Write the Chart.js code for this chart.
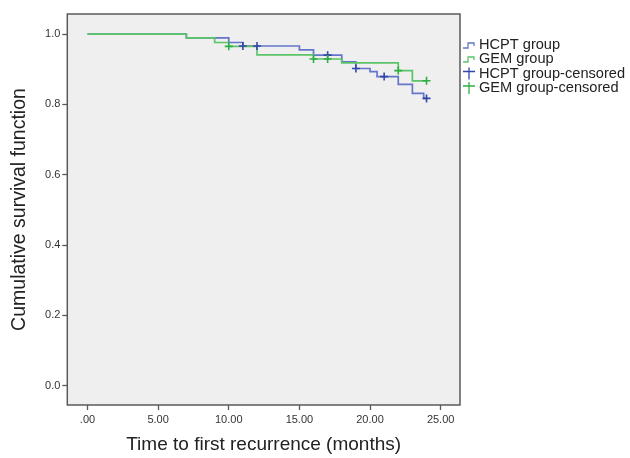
<!DOCTYPE html>
<html>
<head>
<meta charset="utf-8">
<script src="https://cdn.jsdelivr.net/npm/chart.js@4.4.1/dist/chart.umd.min.js"></script>
<style>
  html, body { margin: 0; padding: 0; background: #fff; }
  #km { display: block; }
</style>
</head>
<body>
<canvas id="km" width="630" height="458"></canvas>
<script>
// Kaplan-Meier data
const hcptTimes = [0, 7, 10, 11, 15, 16, 18, 19, 20, 20.5, 22, 23, 23.8, 24];
const hcptSurv  = [1.0, 0.989, 0.976, 0.966, 0.955, 0.940, 0.921, 0.902, 0.893, 0.879, 0.857, 0.831, 0.817, 0.817];
const gemTimes  = [0, 7, 9, 10, 12, 16, 18, 22, 23, 24];
const gemSurv   = [1.0, 0.989, 0.976, 0.965, 0.941, 0.929, 0.918, 0.896, 0.867, 0.867];

const hcptCensTimes = [11, 12, 17, 19, 21, 24];
const hcptCensSurv  = [0.966, 0.966, 0.940, 0.902, 0.879, 0.817];
const gemCensTimes  = [10, 16, 17, 22, 24];
const gemCensSurv   = [0.965, 0.929, 0.929, 0.896, 0.867];

const seriesLabels = ['HCPT group', 'GEM group', 'HCPT group-censored', 'GEM group-censored'];
const xTicks = [0, 5, 10, 15, 20, 25];
const xTickLabels = ['.00', '5.00', '10.00', '15.00', '20.00', '25.00'];
const yTicks = [0, 0.2, 0.4, 0.6, 0.8, 1.0];
const yTickLabels = ['0.0', '0.2', '0.4', '0.6', '0.8', '1.0'];

const COLORS = {
  blueLine: '#6376c9', greenLine: '#5cc468',
  blueMark: '#3346a8', greenMark: '#2fae40',
  plotBg: '#efefef', frame: '#5a5a5a', text: '#333'
};
const FONT = "'Liberation Sans', Arial, sans-serif";

const pts = (xs, ys) => xs.map((x, i) => ({ x, y: ys[i] }));

// grey plot area + frame
const frameBox = {
  id: 'frameBox',
  beforeDraw(chart) {
    const { ctx, chartArea: a } = chart;
    ctx.save();
    ctx.fillStyle = COLORS.plotBg;
    ctx.fillRect(a.left, a.top, a.right - a.left, a.bottom - a.top);
    ctx.restore();
  },
  afterDraw(chart) {
    const { ctx, chartArea: a } = chart;
    ctx.save();
    ctx.strokeStyle = COLORS.frame;
    ctx.lineWidth = 1.5;
    ctx.strokeRect(a.left, a.top, a.right - a.left, a.bottom - a.top);
    ctx.restore();
  }
};

// SPSS-like legend on the right of the plot
const kmLegend = {
  id: 'kmLegend',
  afterDraw(chart) {
    const { ctx, chartArea: a } = chart;
    const ds = chart.data.datasets;
    const x0 = a.right + 3, tx = a.right + 19;
    const rows = [45, 59, 73.5, 88];
    ctx.save();
    ctx.font = '14.6px ' + FONT;
    ctx.textBaseline = 'middle';
    ds.forEach((d, i) => {
      const y = rows[i];
      ctx.lineWidth = 1.3;
      if (d.showLine) {
        ctx.strokeStyle = d.borderColor;
        ctx.beginPath();
        ctx.moveTo(x0, y + 3);
        ctx.lineTo(x0 + 5, y + 3);
        ctx.lineTo(x0 + 5, y - 2);
        ctx.lineTo(x0 + 11, y - 2);
        ctx.lineTo(x0 + 11, y + 1);
        ctx.stroke();
      } else {
        ctx.strokeStyle = d.pointBorderColor;
        ctx.beginPath();
        ctx.moveTo(x0 + 6, y - 6); ctx.lineTo(x0 + 6, y + 6);
        ctx.moveTo(x0, y - 2); ctx.lineTo(x0 + 12, y - 2);
        ctx.stroke();
      }
      ctx.fillStyle = '#222';
      ctx.fillText(d.label, tx, y);
    });
    ctx.restore();
  }
};

new Chart(document.getElementById('km'), {
  type: 'scatter',
  data: {
    datasets: [
      { label: seriesLabels[0], data: pts(hcptTimes, hcptSurv), showLine: true, stepped: true,
        borderColor: COLORS.blueLine, borderWidth: 1.7, pointRadius: 0, order: 3 },
      { label: seriesLabels[1], data: pts(gemTimes, gemSurv), showLine: true, stepped: true,
        borderColor: COLORS.greenLine, borderWidth: 1.7, pointRadius: 0, order: 2 },
      { label: seriesLabels[2], data: pts(hcptCensTimes, hcptCensSurv), showLine: false,
        pointStyle: 'cross', pointRadius: 4, pointBorderWidth: 1.6,
        pointBorderColor: COLORS.blueMark, borderColor: COLORS.blueMark, order: 1 },
      { label: seriesLabels[3], data: pts(gemCensTimes, gemCensSurv), showLine: false,
        pointStyle: 'cross', pointRadius: 4, pointBorderWidth: 1.6,
        pointBorderColor: COLORS.greenMark, borderColor: COLORS.greenMark, order: 0 }
    ]
  },
  options: {
    responsive: false,
    animation: false,
    devicePixelRatio: 1,
    layout: { padding: { top: 14, right: 170, left: 0, bottom: 0 } },
    plugins: { legend: { display: false }, tooltip: { enabled: false } },
    scales: {
      x: {
        type: 'linear', min: -1.43, max: 26.37,
        afterBuildTicks: s => { s.ticks = xTicks.map(v => ({ value: v })); },
        afterFit: s => { s.height = 53; },
        grid: { drawOnChartArea: false, tickLength: 5, tickColor: COLORS.frame, tickWidth: 1.3 },
        border: { display: false },
        ticks: {
          color: COLORS.text, padding: 3, maxRotation: 0,
          font: { family: FONT, size: 11 },
          callback: (v, i) => xTickLabels[i]
        },
        title: { display: true, text: 'Time to first recurrence (months)', color: '#222',
                 font: { family: FONT, size: 19 }, padding: { top: 4, bottom: 2 } }
      },
      y: {
        type: 'linear', min: -0.055, max: 1.057,
        afterBuildTicks: s => { s.ticks = yTicks.map(v => ({ value: v })); },
        afterFit: s => { s.width = 67.3; },
        grid: { drawOnChartArea: false, tickLength: 5, tickColor: COLORS.frame, tickWidth: 1.3 },
        border: { display: false },
        ticks: {
          color: COLORS.text, padding: 2,
          font: { family: FONT, size: 11 },
          callback: (v, i) => yTickLabels[i]
        },
        title: { display: true, text: 'Cumulative survival function', color: '#222',
                 font: { family: FONT, size: 19.5 }, padding: { top: 8, bottom: 0 } }
      }
    }
  },
  plugins: [frameBox, kmLegend]
});
</script>
</body>
</html>
